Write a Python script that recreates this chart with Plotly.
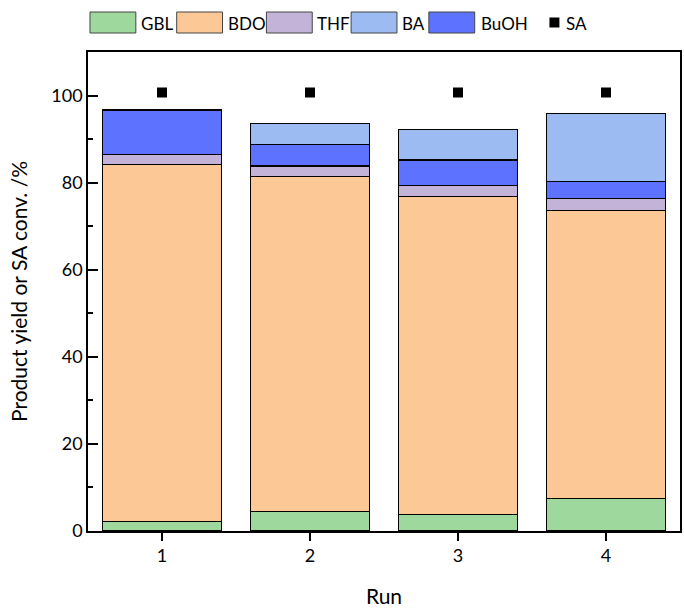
import plotly.graph_objects as go

# Yield data per run (%)
runs = [1, 2, 3, 4]
gbl = [2.1, 4.4, 3.8, 7.5]
bdo = [82.1, 77.1, 73.1, 66.1]
thf = [2.3, 2.3, 2.4, 2.8]
buoh = [10.2, 5.0, 5.9, 3.8]
ba = [0.0, 4.8, 7.0, 15.7]
sa_conv = [100.7, 100.7, 100.7, 100.7]

colors = {
    "GBL": "#9ED89C",
    "BDO": "#FCC896",
    "THF": "#C3B3D8",
    "BA": "#9CBBF3",
    "BuOH": "#5D72FF",
}
series = {"GBL": gbl, "BDO": bdo, "THF": thf, "BuOH": buoh, "BA": ba}
stack_order = ["GBL", "BDO", "THF", "BuOH", "BA"]

FONT = "Lato"
W, H = 684, 608
ML, MR, MT, MB = 88, 2, 52, 77

fig = go.Figure()
for name in stack_order:
    # empty segments are left out so they draw no outline
    vals = [v if v > 0 else None for v in series[name]]
    fig.add_trace(go.Bar(
        x=runs, y=vals, name=name,
        marker=dict(color=colors[name], line=dict(color="black", width=1.2)),
        width=0.8, showlegend=False,
    ))

fig.add_trace(go.Scatter(
    x=runs, y=sa_conv, mode="markers", name="SA",
    marker=dict(symbol="square", size=10, color="black"),
    showlegend=False,
))

# Legend row drawn above the plot frame
pw, ph = W - ML - MR, H - MT - MB


def px_x(px):
    return (px - ML) / pw


def px_y(py):
    return (H - MB - py) / ph


legend_items = [
    ("GBL", 90, 139),
    ("BDO", 177, 226),
    ("THF", 267, 316),
    ("BA", 352, 401),
    ("BuOH", 430, 480),
]
for name, sx, tx in legend_items:
    fig.add_shape(
        type="rect", xref="paper", yref="paper", layer="below",
        x0=px_x(sx), x1=px_x(sx + 46), y0=px_y(33), y1=px_y(12),
        fillcolor=colors[name], line=dict(color="#444444", width=1),
    )
    fig.add_annotation(
        x=px_x(tx), y=px_y(23), xref="paper", yref="paper",
        text=name, showarrow=False, xanchor="left", yanchor="middle",
        font=dict(family=FONT, size=17, color="black"),
    )

fig.add_shape(
    type="rect", xref="paper", yref="paper",
    x0=px_x(551), x1=px_x(561), y0=px_y(27.5), y1=px_y(17.5),
    fillcolor="black", line=dict(width=0),
)
fig.add_annotation(
    x=px_x(566), y=px_y(23), xref="paper", yref="paper",
    text="SA", showarrow=False, xanchor="left", yanchor="middle",
    font=dict(family=FONT, size=17, color="black"),
)

fig.update_layout(
    width=W, height=H,
    margin=dict(l=ML, r=MR, t=MT, b=MB),
    barmode="stack",
    bargap=0.2,
    plot_bgcolor="white",
    paper_bgcolor="white",
    font=dict(family=FONT, size=18, color="black"),
    showlegend=False,
)

fig.update_xaxes(
    range=[0.5, 4.5],
    tickmode="array", tickvals=runs, ticktext=[str(r) for r in runs],
    ticks="outside", ticklen=8, tickwidth=1.5, tickcolor="black",
    showline=True, linecolor="black", linewidth=1.5, mirror=True,
    showgrid=False, zeroline=False,
    title=dict(text="Run", font=dict(family=FONT, size=21), standoff=24),
    tickfont=dict(family=FONT, size=18),
)
fig.update_yaxes(
    range=[0, 110],
    tickmode="array", tickvals=[0, 20, 40, 60, 80, 100],
    ticks="inside", ticklen=10, tickwidth=1.5, tickcolor="black",
    minor=dict(tickvals=[10, 30, 50, 70, 90], ticks="inside", ticklen=5,
               tickwidth=1.5, tickcolor="black"),
    showline=True, linecolor="black", linewidth=1.5, mirror=True,
    showgrid=False, zeroline=False,
    title=dict(text="Product yield or SA conv. /%", font=dict(family=FONT, size=21), standoff=18),
    tickfont=dict(family=FONT, size=18),
)

fig.write_html("out.html")
